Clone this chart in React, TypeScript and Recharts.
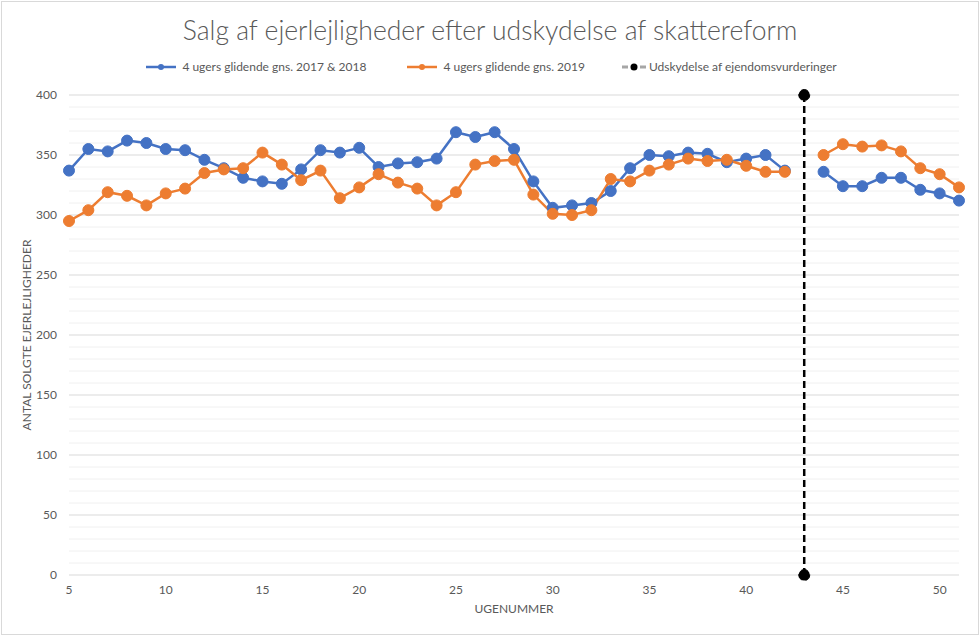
import React from 'react';
import { LineChart, Line, XAxis, YAxis, CartesianGrid, ReferenceLine, Legend, Label } from 'recharts';

const weeks = [5,6,7,8,9,10,11,12,13,14,15,16,17,18,19,20,21,22,23,24,25,26,27,28,29,30,31,32,33,34,35,36,37,38,39,40,41,42,43,44,45,46,47,48,49,50,51];
const serie1718 = [337,355,353,362,360,355,354,346,339,331,328,326,338,354,352,356,340,343,344,347,369,365,369,355,328,306,308,310,320,339,350,349,352,351,344,347,350,337,null,336,324,324,331,331,321,318,312];
const serie2019 = [295,304,319,316,308,318,322,335,338,339,352,342,329,337,314,323,334,327,322,308,319,342,345,346,317,301,300,304,330,328,337,342,347,345,346,341,336,336,null,350,359,357,358,353,339,334,323];
const markerWeek = 43;
const markerValues = [0, 400];
const xTicks = [5,10,15,20,25,30,35,40,45,50];
const yTicks = [0,50,100,150,200,250,300,350,400];
const minorGrid = [10,20,30,40,60,70,80,90,110,120,130,140,160,170,180,190,210,220,230,240,260,270,280,290,310,320,330,340,360,370,380,390];

const labels = {
  title: 'Salg af ejerlejligheder efter udskydelse af skattereform',
  s1: '4 ugers glidende gns. 2017 & 2018',
  s2: '4 ugers glidende gns. 2019',
  s3: 'Udskydelse af ejendomsvurderinger',
  x: 'UGENUMMER',
  y: 'ANTAL SOLGTE EJERLEJLIGHEDER',
};

const BLUE = '#4472C4';
const ORANGE = '#ED7D31';
const TEXT = '#595959';
const FONT = 'Lato, "Open Sans", sans-serif';

const data = weeks.map((w, i) => ({ week: w, a: serie1718[i], b: serie2019[i] }));
const markerData = markerValues.map((v) => ({ week: markerWeek, m: v }));

const LegendContent = () => (
  <div style={{ display: 'flex', justifyContent: 'center', alignItems: 'center', fontFamily: FONT, fontSize: 12, color: TEXT, height: 12, lineHeight: '12px' }}>
    <svg width={36} height={12} style={{ marginRight: 3 }}>
      <line x1={3} y1={6} x2={33} y2={6} stroke={BLUE} strokeWidth={2.5} />
      <circle cx={18} cy={6} r={3} fill={BLUE} />
    </svg>
    <span style={{ marginRight: 38 }}>{labels.s1}</span>
    <svg width={36} height={12} style={{ marginRight: 3 }}>
      <line x1={3} y1={6} x2={33} y2={6} stroke={ORANGE} strokeWidth={2.5} />
      <circle cx={18} cy={6} r={3} fill={ORANGE} />
    </svg>
    <span style={{ marginRight: 36 }}>{labels.s2}</span>
    <svg width={26} height={12} style={{ marginRight: 2 }}>
      <line x1={1} y1={6} x2={25} y2={6} stroke="#a6a6a6" strokeWidth={3} strokeDasharray="6 3" />
      <circle cx={13} cy={6} r={3.5} fill="#000" />
    </svg>
    <span>{labels.s3}</span>
  </div>
);

export default function App() {
  return (
    <div style={{ position: 'absolute', left: 0, top: 0, width: 980, height: 636, background: '#fff' }}>
      <div style={{ position: 'absolute', left: 1, top: 1, width: 976, height: 632, border: '1px solid #d9d9d9' }} />
      <div style={{ position: 'absolute', left: 0, top: 14, width: 980, textAlign: 'center', fontFamily: FONT, fontWeight: 300, fontSize: 26.5, color: TEXT }}>
        {labels.title}
      </div>
      <LineChart width={980} height={636} data={data} margin={{ top: 83, right: 21, bottom: 31, left: 10 }}>
        <Legend verticalAlign="top" height={12} content={<LegendContent />} wrapperStyle={{ top: 61, left: 0, width: 980 }} />
        {minorGrid.map((v) => (
          <ReferenceLine key={v} y={v} stroke="#f0f0f0" strokeWidth={1} />
        ))}
        <CartesianGrid vertical={false} stroke="#d9d9d9" />
        <XAxis
          dataKey="week"
          type="number"
          domain={[5, 51]}
          ticks={xTicks}
          axisLine={false}
          tickLine={false}
          tickMargin={4}
          height={30}
          tick={{ fill: TEXT, fontSize: 12, fontFamily: FONT }}
        >
          <Label value={labels.x} position="insideBottom" offset={-8} fill={TEXT} fontSize={12} fontFamily={FONT} />
        </XAxis>
        <YAxis
          type="number"
          domain={[0, 400]}
          ticks={yTicks}
          axisLine={false}
          tickLine={false}
          tickMargin={6}
          width={59}
          tick={{ fill: TEXT, fontSize: 12, fontFamily: FONT }}
        >
          <Label value={labels.y} angle={-90} position="insideLeft" offset={17} fill={TEXT} fontSize={12} fontFamily={FONT} style={{ textAnchor: 'middle' }} />
        </YAxis>
        <Line
          type="linear"
          dataKey="a"
          stroke={BLUE}
          strokeWidth={2.5}
          dot={{ r: 5.5, fill: BLUE, stroke: BLUE, strokeWidth: 1 }}
          connectNulls={false}
          isAnimationActive={false}
        />
        <Line
          type="linear"
          dataKey="b"
          stroke={ORANGE}
          strokeWidth={2.5}
          dot={{ r: 5.5, fill: ORANGE, stroke: ORANGE, strokeWidth: 1 }}
          connectNulls={false}
          isAnimationActive={false}
        />
        <Line
          data={markerData}
          type="linear"
          dataKey="m"
          stroke="#000"
          strokeWidth={2.5}
          strokeDasharray="7 4"
          dot={{ r: 5.5, fill: '#000', stroke: '#000', strokeWidth: 1 }}
          isAnimationActive={false}
        />
      </LineChart>
    </div>
  );
}
